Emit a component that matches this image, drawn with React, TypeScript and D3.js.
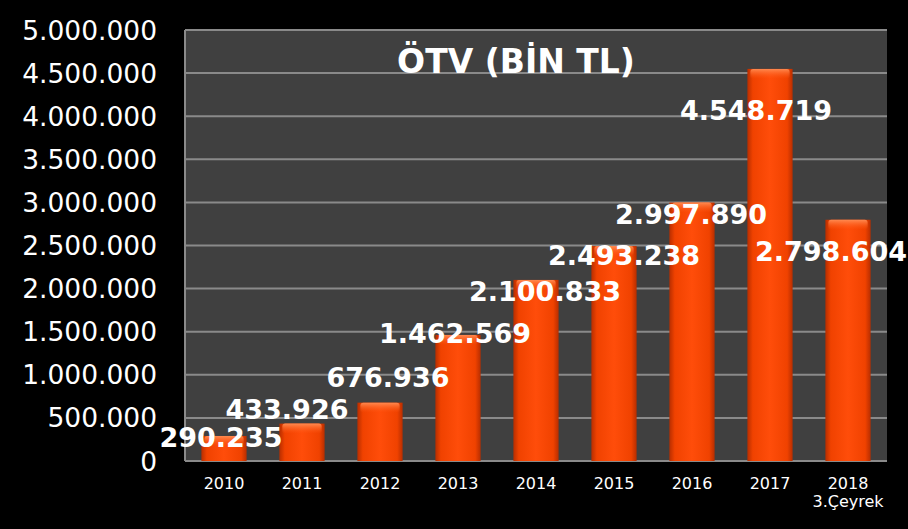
import React from 'react';
import * as d3 from 'd3';

const categories = ['2010', '2011', '2012', '2013', '2014', '2015', '2016', '2017', '2018'];
const subLabels = ['', '', '', '', '', '', '', '', '3.Çeyrek'];
const values = [290235, 433926, 676936, 1462569, 2100833, 2493238, 2997890, 4548719, 2798604];
const yTicks = [0, 500000, 1000000, 1500000, 2000000, 2500000, 3000000, 3500000, 4000000, 4500000, 5000000];
// label nudges (px) relative to the bar's top centre, as placed in the original
const labelDx = [-3, -15, 8, -3, 9, 10, -1, -14, -17];
const labelDy = [1, -14, -25, -2, 11, 9, 12, 41, 32];

const W = 908;
const H = 529;
const left = 185, right = 887, top = 30, bottom = 461;

const trLocale = d3.formatLocale({ decimal: ',', thousands: '.', grouping: [3], currency: ['', ' TL'] });
const fmt = trLocale.format(',d');

const App = () => {
  const x = d3.scaleBand<string>().domain(categories).range([left, right]).paddingInner(0.42).paddingOuter(0.21);
  const y = d3.scaleLinear().domain([0, 5000000]).range([bottom, top]);
  const font = 'Verdana, "DejaVu Sans", sans-serif';

  return (
    <svg width={W} height={H} style={{ position: 'absolute', left: 0, top: 0, display: 'block' }}>
      <defs>
        <linearGradient id="barG" x1="0" x2="1" y1="0" y2="0">
          <stop offset="0" stopColor="#b82e00" />
          <stop offset="0.12" stopColor="#f04200" />
          <stop offset="0.5" stopColor="#ff4d0a" />
          <stop offset="0.88" stopColor="#f04200" />
          <stop offset="1" stopColor="#b82e00" />
        </linearGradient>
        <linearGradient id="capG" x1="0" x2="0" y1="0" y2="1">
          <stop offset="0" stopColor="#ff8a50" />
          <stop offset="1" stopColor="#ff5a18" stopOpacity="0" />
        </linearGradient>
      </defs>
      <rect width={W} height={H} fill="#000" />
      <rect x={left} y={top} width={right - left} height={bottom - top} fill="#404040" />
      {yTicks.map((t) => (
        <g key={t}>
          <line x1={left} x2={right} y1={y(t)} y2={y(t)} stroke="#8a8a8a" strokeWidth={2} />
          <text x={157} y={y(t)} dy="0.36em" textAnchor="end" fill="#fff" fontSize={26.5} fontFamily={font}>
            {fmt(t)}
          </text>
        </g>
      ))}
      <line x1={left} x2={left} y1={top} y2={bottom} stroke="#8a8a8a" strokeWidth={2} />
      <text x={516} y={73} textAnchor="middle" fill="#fff" fontSize={33} fontWeight="bold" fontFamily={font}>
        ÖTV (BİN TL)
      </text>
      {values.map((v, i) => {
        const bx = x(categories[i]) as number;
        const bw = x.bandwidth();
        const by = y(v);
        return (
          <g key={categories[i]}>
            <rect x={bx} y={by} width={bw} height={bottom - by} fill="url(#barG)" />
            <rect x={bx + 3} y={by} width={bw - 6} height={Math.min(10, bottom - by)} fill="url(#capG)" rx={3} />
          </g>
        );
      })}
      {categories.map((c, i) => {
        const cx = (x(c) as number) + x.bandwidth() / 2;
        return (
          <g key={c}>
            <text x={cx} y={489} textAnchor="middle" fill="#fff" fontSize={16} fontFamily={font}>{c}</text>
            {subLabels[i] && (
              <text x={cx} y={507} textAnchor="middle" fill="#fff" fontSize={16} fontFamily={font}>{subLabels[i]}</text>
            )}
          </g>
        );
      })}
      {values.map((v, i) => {
        const cx = (x(categories[i]) as number) + x.bandwidth() / 2 + labelDx[i];
        const cy = y(v) + labelDy[i];
        return (
          <text key={categories[i]} x={cx} y={cy} dy="0.36em" textAnchor="middle" fill="#fff" fontSize={27} fontWeight="bold" fontFamily={font}>
            {fmt(v)}
          </text>
        );
      })}
    </svg>
  );
};

export default App;
